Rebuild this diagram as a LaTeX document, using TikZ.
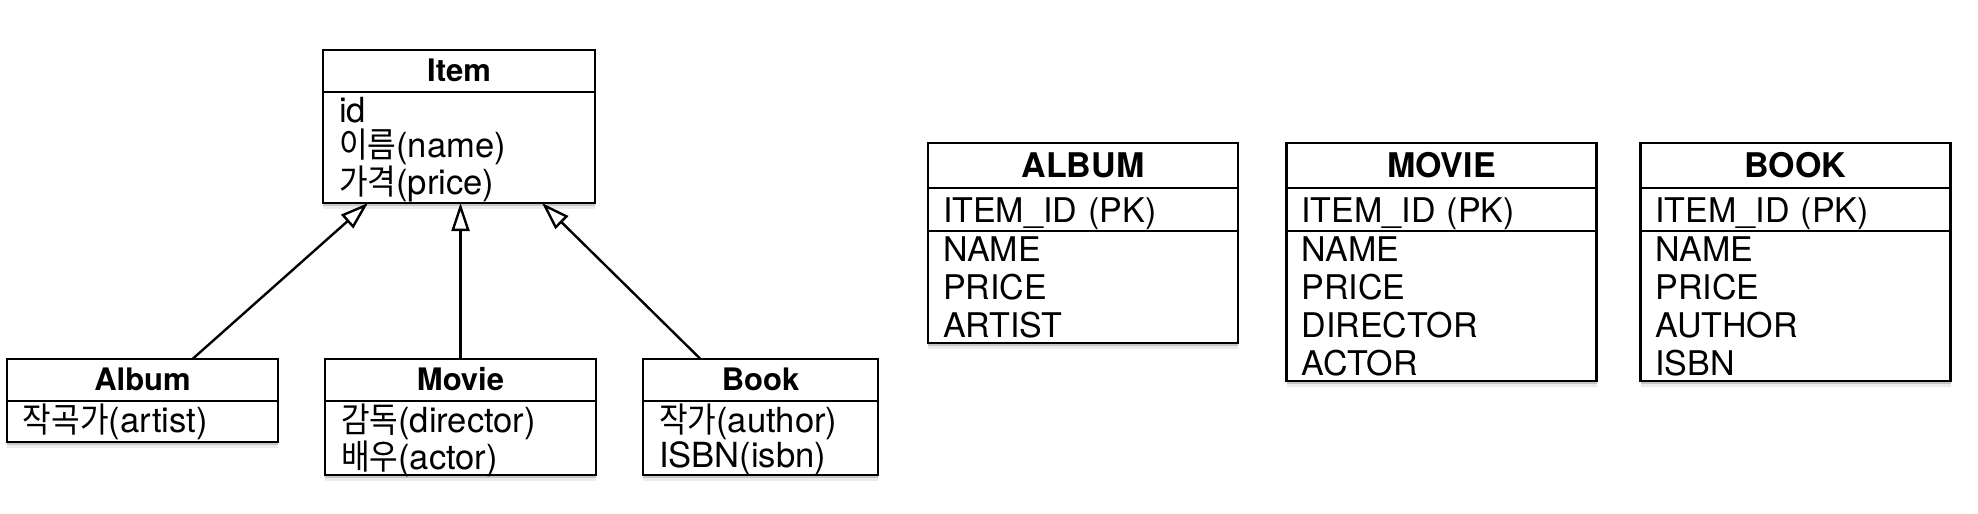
\documentclass[tikz,border=0pt]{standalone}
\usepackage{fontspec}
\setmainfont{TeX Gyre Heros}
\newfontfamily\krfont[FakeStretch=0.9]{Noto Sans CJK KR}
\newcommand{\hangul}[1]{{\krfont #1}}
\usepackage{tikz}
\usetikzlibrary{arrows.meta, positioning, shadows}

\begin{document}
\begin{tikzpicture}[
  x=0.5pt, y=-0.5pt,
  box/.style={rectangle, draw, line width=1.4pt, fill=white, outer sep=0pt,
              anchor=north,
              drop shadow={shadow xshift=0pt, shadow yshift=-1.5pt, opacity=.35},
              drop shadow={shadow xshift=0pt, shadow yshift=-3pt, opacity=.15}},
  clshead/.style={box, minimum width=#1, inner xsep=0pt, inner ysep=0pt,
                  text height=15.5pt, text depth=5.5pt,
                  font=\bfseries\fontsize{15.5pt}{18pt}\selectfont},
  clsattr/.style={box, align=left, inner xsep=8pt, inner ysep=0pt,
                  font=\fontsize{17.3pt}{17.5pt}\selectfont},
  tblhead/.style={box, minimum width=155pt, inner xsep=0pt, inner ysep=0pt,
                  text height=17pt, text depth=5.5pt,
                  font=\bfseries\fontsize{17pt}{20pt}\selectfont},
  tblpk/.style={box, align=left, text width=140pt, inner xsep=7.5pt, inner ysep=0pt,
                text height=17pt, text depth=4.5pt,
                font=\fontsize{17pt}{19pt}\selectfont},
  tblcol/.style={box, align=left, text width=140pt, inner xsep=7.5pt, inner ysep=0pt,
                 text height=15pt, font=\fontsize{17pt}{19pt}\selectfont},
  inherit/.style={-{Triangle[open, length=14pt, width=9pt]}, line width=1.2pt}
]
\useasboundingbox (0,0) rectangle (1978,514);

% class diagram
\node[clshead=136pt] (item) at (459,50) {Item};
\node[clsattr, below=0pt of item, text width=120pt, text height=15pt, text depth=40.5pt]
  (itemattr) {id\\\hangul{이름}(name)\\\hangul{가격}(price)};

\node[clshead=135.5pt] (album) at (142.5,359) {Album};
\node[clsattr, below=0pt of album, text width=119.5pt, text height=15.5pt, text depth=5pt]
  (albumattr) {\hangul{작곡가}(artist)};

\node[clshead=135.5pt] (movie) at (460.5,359) {Movie};
\node[clsattr, below=0pt of movie, text width=119.5pt, text height=15.5pt, text depth=21.5pt]
  (movieattr) {\hangul{감독}(director)\\\hangul{배우}(actor)};

\node[clshead=117.5pt] (book) at (760.5,359) {Book};
\node[clsattr, below=0pt of book, text width=101.5pt, text height=15.5pt, text depth=21.5pt]
  (bookattr) {\hangul{작가}(author)\\ISBN(isbn)};

\draw[inherit] ([xshift=25pt]album.north) -- ([xshift=-45.5pt]itemattr.south);
\draw[inherit] (movie.north) -- (movie.north |- itemattr.south);
\draw[inherit] ([xshift=-30pt]book.north) -- ([xshift=41.5pt]itemattr.south);

% tables
\node[tblhead] (talbum) at (1083,143) {ALBUM};
\node[tblpk, below=0pt of talbum] (talbumpk) {ITEM\_ID (PK)};
\node[tblcol, below=0pt of talbumpk, text depth=41pt] (talbumcol)
  {NAME\\PRICE\\ARTIST};

\node[tblhead] (tmovie) at (1441.5,143) {MOVIE};
\node[tblpk, below=0pt of tmovie] (tmoviepk) {ITEM\_ID (PK)};
\node[tblcol, below=0pt of tmoviepk, text depth=60pt] (tmoviecol)
  {NAME\\PRICE\\DIRECTOR\\ACTOR};

\node[tblhead] (tbook) at (1795.5,143) {BOOK};
\node[tblpk, below=0pt of tbook] (tbookpk) {ITEM\_ID (PK)};
\node[tblcol, below=0pt of tbookpk, text depth=60pt] (tbookcol)
  {NAME\\PRICE\\AUTHOR\\ISBN};

\end{tikzpicture}
\end{document}
